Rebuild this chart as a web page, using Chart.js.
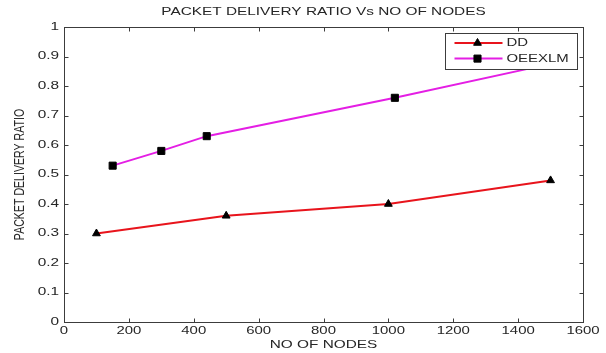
<!DOCTYPE html>
<html>
<head>
<meta charset="utf-8">
<script src="https://cdn.jsdelivr.net/npm/chart.js@4.4.1/dist/chart.umd.min.js"></script>
<style>
  html, body { margin: 0; padding: 0; background: #fff; }
</style>
</head>
<body>
<canvas id="pdrChart" width="606" height="353"></canvas>
<script>
const xTicks = [0, 200, 400, 600, 800, 1000, 1200, 1400, 1600];
const yTicks = [0, 0.1, 0.2, 0.3, 0.4, 0.5, 0.6, 0.7, 0.8, 0.9, 1];

const ddNodes = [100, 500, 1000, 1500];
const ddRatio = [0.3, 0.36, 0.4, 0.48];

const oeNodes = [150, 300, 440, 1020, 1500];
const oeRatio = [0.53, 0.58, 0.63, 0.76, 0.875];

const FONT = "Liberation Sans";
const INK = "#262626";

const canvas = document.getElementById("pdrChart");
const ctx = canvas.getContext("2d");

// the scanned figure is stretched sideways, so widen every piece of text
const STRETCH = 1.45;
const plainFillText = ctx.fillText;
ctx.fillText = function (text, x, y) {
  const m = this.getTransform();
  const p = m.transformPoint(new DOMPoint(x, y));
  const s = new DOMMatrix()
    .translate(p.x, p.y)
    .scale(STRETCH, 1)
    .translate(-p.x, -p.y);
  this.setTransform(s.multiply(m));
  plainFillText.call(this, text, x, y);
  this.setTransform(m);
};

const toPoints = (xs, ys) => xs.map((v, i) => ({ x: v, y: ys[i] }));

const axisFrame = {
  id: "axisFrame",
  afterDatasetsDraw(chart) {
    const { ctx, chartArea: a, scales } = chart;
    const left = Math.round(a.left) + 0.5;
    const right = Math.round(a.right) + 0.5;
    const top = Math.round(a.top) + 0.5;
    const bottom = Math.round(a.bottom) + 0.5;
    ctx.save();
    ctx.strokeStyle = "#3c3c3c";
    ctx.lineWidth = 1;
    ctx.strokeRect(left, top, right - left, bottom - top);
    ctx.beginPath();
    xTicks.slice(1, -1).forEach((v) => {
      const px = Math.round(scales.x.getPixelForValue(v)) + 0.5;
      ctx.moveTo(px, bottom);
      ctx.lineTo(px, bottom - 4);
      ctx.moveTo(px, top);
      ctx.lineTo(px, top + 4);
    });
    yTicks.slice(1, -1).forEach((v) => {
      const py = Math.round(scales.y.getPixelForValue(v)) + 0.5;
      ctx.moveTo(left, py);
      ctx.lineTo(left + 4, py);
      ctx.moveTo(right, py);
      ctx.lineTo(right - 4, py);
    });
    ctx.stroke();
    ctx.restore();
  },
};

const boxLegend = {
  id: "boxLegend",
  afterDraw(chart) {
    const { ctx, chartArea: a } = chart;
    const w = 132;
    const h = 36;
    const bx = Math.round(a.right) - 6 - w + 0.5;
    const by = Math.round(a.top) + 6 + 0.5;
    ctx.save();
    ctx.fillStyle = "#fff";
    ctx.fillRect(bx, by, w, h);
    ctx.strokeStyle = "#3c3c3c";
    ctx.lineWidth = 1;
    ctx.strokeRect(bx, by, w, h);
    chart.data.datasets.forEach((ds, i) => {
      const ry = by + 9.5 + i * 15.6;
      ctx.strokeStyle = ds.borderColor;
      ctx.lineWidth = 2;
      ctx.beginPath();
      ctx.moveTo(bx + 9, ry);
      ctx.lineTo(bx + 57, ry);
      ctx.stroke();
      ctx.fillStyle = "#000";
      ctx.strokeStyle = "#000";
      ctx.lineWidth = 1;
      Chart.helpers.drawPoint(
        ctx,
        { pointStyle: ds.pointStyle, radius: ds.pointRadius, rotation: 0, borderWidth: 1 },
        bx + 32,
        ry
      );
      ctx.fillStyle = INK;
      ctx.font = "10.3px '" + FONT + "'";
      ctx.textAlign = "left";
      ctx.textBaseline = "middle";
      ctx.fillText(ds.label, bx + 61, ry + 0.5);
    });
    ctx.restore();
  },
};

const pdrChart = new Chart(ctx, {
  type: "line",
  data: {
    datasets: [
      {
        label: "DD",
        data: toPoints(ddNodes, ddRatio),
        borderColor: "#e8141c",
        borderWidth: 2,
        pointStyle: "triangle",
        pointRadius: 4.5,
        pointBackgroundColor: "#000",
        pointBorderColor: "#000",
        pointBorderWidth: 1,
        tension: 0,
      },
      {
        label: "OEEXLM",
        data: toPoints(oeNodes, oeRatio),
        borderColor: "#e41ee4",
        borderWidth: 2,
        pointStyle: "rect",
        pointRadius: 5,
        pointBackgroundColor: "#000",
        pointBorderColor: "#000",
        pointBorderWidth: 1,
        tension: 0,
      },
    ],
  },
  options: {
    responsive: false,
    animation: false,
    devicePixelRatio: 1,
    layout: {
      padding: { left: 0, right: 23, top: 0, bottom: 0 },
    },
    scales: {
      x: {
        type: "linear",
        min: 0,
        max: 1600,
        afterBuildTicks: (scale) => {
          scale.ticks = xTicks.map((v) => ({ value: v }));
        },
        afterFit: (scale) => {
          scale.height = 31;
        },
        grid: { display: false, drawTicks: false },
        border: { display: false },
        ticks: {
          autoSkip: false,
          maxRotation: 0,
          padding: 3,
          color: INK,
          font: { family: FONT, size: 10.3 },
          callback: (v) => String(v),
        },
        title: {
          display: true,
          text: "NO OF NODES",
          color: INK,
          font: { family: FONT, size: 10.6 },
          padding: { top: 0, bottom: 1.6 },
        },
      },
      y: {
        min: 0,
        max: 1,
        afterBuildTicks: (scale) => {
          scale.ticks = yTicks.map((v) => ({ value: v }));
        },
        afterFit: (scale) => {
          scale.width = 64;
        },
        grid: { display: false, drawTicks: false },
        border: { display: false },
        ticks: {
          padding: 5,
          color: INK,
          font: { family: FONT, size: 10.6 },
          callback: (v) => String(v),
        },
        title: {
          display: true,
          text: "PACKET DELIVERY RATIO",
          color: INK,
          font: { family: FONT, size: 10.6 },
          padding: { top: 13.6, bottom: 0 },
        },
      },
    },
    plugins: {
      legend: { display: false },
      tooltip: { enabled: false },
      title: {
        display: true,
        fullSize: false,
        text: "PACKET DELIVERY RATIO Vs NO OF NODES",
        color: INK,
        font: { family: FONT, size: 10.6, weight: "normal" },
        padding: { top: 5.3, bottom: 9 },
      },
    },
  },
  plugins: [axisFrame, boxLegend],
});
</script>
</body>
</html>
